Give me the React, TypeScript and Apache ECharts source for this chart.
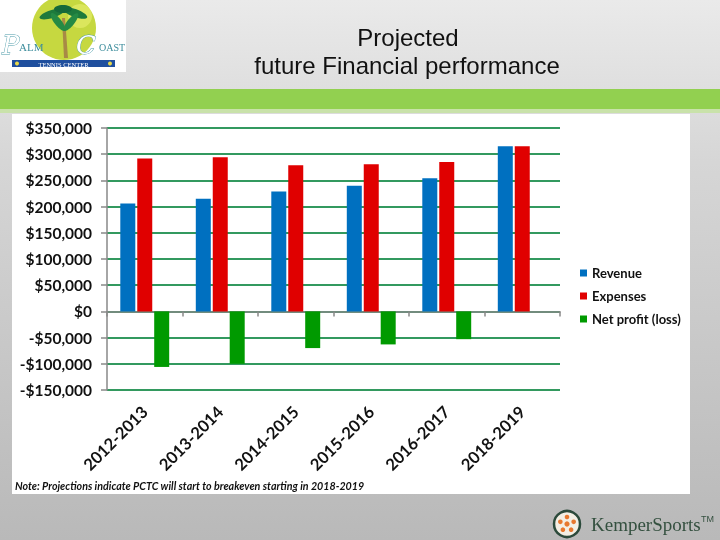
import React, { useEffect, useRef } from "react";
import * as echarts from "echarts";

const categories = ["2012-2013", "2013-2014", "2014-2015", "2015-2016", "2016-2017", "2018-2019"];
const revenue = [206000, 215000, 229000, 240000, 254000, 315000];
const expenses = [292000, 294000, 279000, 281000, 285000, 315000];
const netProfit = [-106000, -100000, -70000, -63000, -53000, 0];
const seriesNames = ["Revenue", "Expenses", "Net profit (loss)"];
const titleLines = ["Projected", "future Financial performance"];
const noteText = "Note: Projections indicate PCTC will start to breakeven starting in 2018-2019";

const BLUE = "#0070c0";
const RED = "#e00000";
const GREEN = "#009a00";
const GRID_GREEN = "#33995f";
const AXIS_GRAY = "#888888";

function fmtMoney(v: number): string {
  const abs = Math.abs(v).toLocaleString("en-US");
  return (v < 0 ? "-$" : "$") + abs;
}

export default function App() {
  const ref = useRef<HTMLDivElement>(null);
  useEffect(() => {
    if (!ref.current) return;
    const chart = echarts.init(ref.current, undefined, { renderer: "svg" });
    const labelFont = "Lato, 'Open Sans', sans-serif";

    const kemperDots = [0, 72, 144, 216, 288].map((a) => {
      const r = (a - 90) * Math.PI / 180;
      return { type: "circle", shape: { cx: 567 + 7 * Math.cos(r), cy: 524 + 7 * Math.sin(r), r: 2.3 }, style: { fill: "#e8782e" }, z: 5 };
    });

    chart.setOption({
      animation: false,
      graphic: [
        {
          type: "rect", z: -30, silent: true,
          shape: { x: 0, y: 0, width: 720, height: 540 },
          style: {
            fill: new echarts.graphic.LinearGradient(0, 0, 0, 1, [
              { offset: 0, color: "#eaeaea" },
              { offset: 0.3, color: "#d6d6d6" },
              { offset: 1, color: "#b9b9b9" },
            ]),
          },
        },
        { type: "rect", z: -25, shape: { x: 0, y: 89, width: 720, height: 20 }, style: { fill: "#92d050" } },
        { type: "rect", z: -25, shape: { x: 0, y: 109, width: 720, height: 4 }, style: { fill: "#c9e2aa" } },
        { type: "rect", z: -20, shape: { x: 12, y: 114, width: 678, height: 380 }, style: { fill: "#ffffff" } },
        // Palm Coast logo
        { type: "rect", z: -20, shape: { x: 0, y: 0, width: 126, height: 72 }, style: { fill: "#ffffff" } },
        { type: "circle", z: -19, shape: { cx: 64, cy: 28, r: 32 }, style: { fill: "#c6d840" } },
        { type: "circle", z: -18, shape: { cx: 80, cy: 16, r: 12 }, style: { fill: "#e4ec6a", opacity: 0.7 } },
        { type: "polygon", z: -17, shape: { points: [[62, 18], [65, 18], [68, 58], [64, 58]] }, style: { fill: "#a88a45" } },
        { type: "ellipse", z: -16, shape: { cx: 52, cy: 14, rx: 13, ry: 4 }, rotation: 0.3, originX: 52, originY: 14, style: { fill: "#1d7a3c" } },
        { type: "ellipse", z: -16, shape: { cx: 75, cy: 13, rx: 13, ry: 4 }, rotation: -0.35, originX: 75, originY: 13, style: { fill: "#1d7a3c" } },
        { type: "ellipse", z: -16, shape: { cx: 58, cy: 22, rx: 11, ry: 3.5 }, rotation: -0.9, originX: 58, originY: 22, style: { fill: "#258a44" } },
        { type: "ellipse", z: -16, shape: { cx: 71, cy: 22, rx: 11, ry: 3.5 }, rotation: 0.9, originX: 71, originY: 22, style: { fill: "#258a44" } },
        { type: "ellipse", z: -16, shape: { cx: 63, cy: 9, rx: 9, ry: 4 }, style: { fill: "#16693a" } },
        { type: "text", z: -15, style: { x: 2, y: 45, text: "P", font: "italic 26px 'DejaVu Serif', serif", fill: "#ffffff", stroke: "#4a9aa8", lineWidth: 0.8, verticalAlign: "middle" } },
        { type: "text", z: -15, style: { x: 19, y: 47, text: "ALM", font: "11px 'Liberation Serif', serif", fill: "#3d8d9c", verticalAlign: "middle" } },
        { type: "text", z: -15, style: { x: 76, y: 45, text: "C", font: "italic 26px 'DejaVu Serif', serif", fill: "#ffffff", stroke: "#4a9aa8", lineWidth: 0.8, verticalAlign: "middle" } },
        { type: "text", z: -15, style: { x: 99, y: 47, text: "OAST", font: "10px 'Liberation Serif', serif", fill: "#3d8d9c", verticalAlign: "middle" } },
        { type: "rect", z: -15, shape: { x: 12, y: 60, width: 103, height: 7 }, style: { fill: "#1f4f9e" } },
        { type: "circle", z: -14, shape: { cx: 17, cy: 63.5, r: 2 }, style: { fill: "#e8d84a" } },
        { type: "circle", z: -14, shape: { cx: 110, cy: 63.5, r: 2 }, style: { fill: "#e8d84a" } },
        { type: "text", z: -14, style: { x: 63.5, y: 64, text: "TENNIS CENTER", font: "6.5px 'Liberation Serif', serif", fill: "#ffffff", align: "center", verticalAlign: "middle" } },
        // Title
        { type: "text", style: { x: 408, y: 37, text: titleLines[0], font: "24px 'Liberation Sans', Arial, sans-serif", fill: "#111111", align: "center", verticalAlign: "middle" } },
        { type: "text", style: { x: 407, y: 65, text: titleLines[1], font: "24px 'Liberation Sans', Arial, sans-serif", fill: "#111111", align: "center", verticalAlign: "middle" } },
        // Note
        { type: "text", style: { x: 15, y: 485, text: noteText, font: "italic bold 10.7px " + labelFont, fill: "#111111", verticalAlign: "middle" } },
        // KemperSports logo
        { type: "circle", z: 4, shape: { cx: 567, cy: 524, r: 13 }, style: { fill: "#f4efe4", stroke: "#2c4a3b", lineWidth: 2.5 } },
        { type: "circle", z: 5, shape: { cx: 567, cy: 524, r: 2.6 }, style: { fill: "#e8782e" } },
        ...kemperDots,
        { type: "text", style: { x: 591, y: 524, text: "KemperSports", font: "19px 'Liberation Serif', serif", fill: "#34503f", verticalAlign: "middle" } },
        { type: "text", style: { x: 701, y: 519, text: "TM", font: "9px 'Liberation Sans', sans-serif", fill: "#34503f", verticalAlign: "middle" } },
      ],
      legend: {
        orient: "vertical",
        left: 575,
        top: 260,
        itemWidth: 7,
        itemHeight: 7,
        itemGap: 7,
        icon: "rect",
        data: seriesNames,
        textStyle: { fontFamily: labelFont, fontWeight: "bold", fontSize: 13, color: "#111", lineHeight: 16 },
      },
      grid: { left: 107, right: 160, top: 128, bottom: 150 },
      xAxis: [
        {
          type: "category",
          data: categories,
          position: "bottom",
          axisLine: { show: false, onZero: false },
          axisTick: { show: false },
          axisLabel: { rotate: 45, margin: 19, fontFamily: labelFont, fontWeight: "bold", fontSize: 16.5, color: "#111" },
        },
        {
          type: "category",
          data: categories,
          position: "bottom",
          axisLine: { show: true, onZero: true, lineStyle: { color: AXIS_GRAY, width: 1.5 } },
          axisTick: { show: true, length: 5, lineStyle: { color: AXIS_GRAY, width: 1.5 } },
          axisLabel: { show: false },
        },
      ],
      yAxis: {
        type: "value",
        min: -150000,
        max: 350000,
        interval: 50000,
        axisLine: { show: true, lineStyle: { color: AXIS_GRAY, width: 1.5 } },
        axisTick: { show: true, length: 6, lineStyle: { color: AXIS_GRAY, width: 1.5 } },
        axisLabel: { formatter: fmtMoney, margin: 15, fontFamily: labelFont, fontWeight: "bold", fontSize: 15.5, color: "#111" },
        splitLine: { show: true, lineStyle: { color: GRID_GREEN, width: 2 } },
      },
      series: [
        { name: seriesNames[0], type: "bar", xAxisIndex: 0, data: revenue, barWidth: 15, barGap: "13%", itemStyle: { color: BLUE } },
        { name: seriesNames[1], type: "bar", xAxisIndex: 0, data: expenses, barWidth: 15, barGap: "13%", itemStyle: { color: RED } },
        { name: seriesNames[2], type: "bar", xAxisIndex: 0, data: netProfit, barWidth: 15, barGap: "13%", itemStyle: { color: GREEN } },
      ],
    });
    return () => chart.dispose();
  }, []);
  return <div ref={ref} style={{ position: "fixed", left: 0, top: 0, width: 720, height: 540 }} />;
}
